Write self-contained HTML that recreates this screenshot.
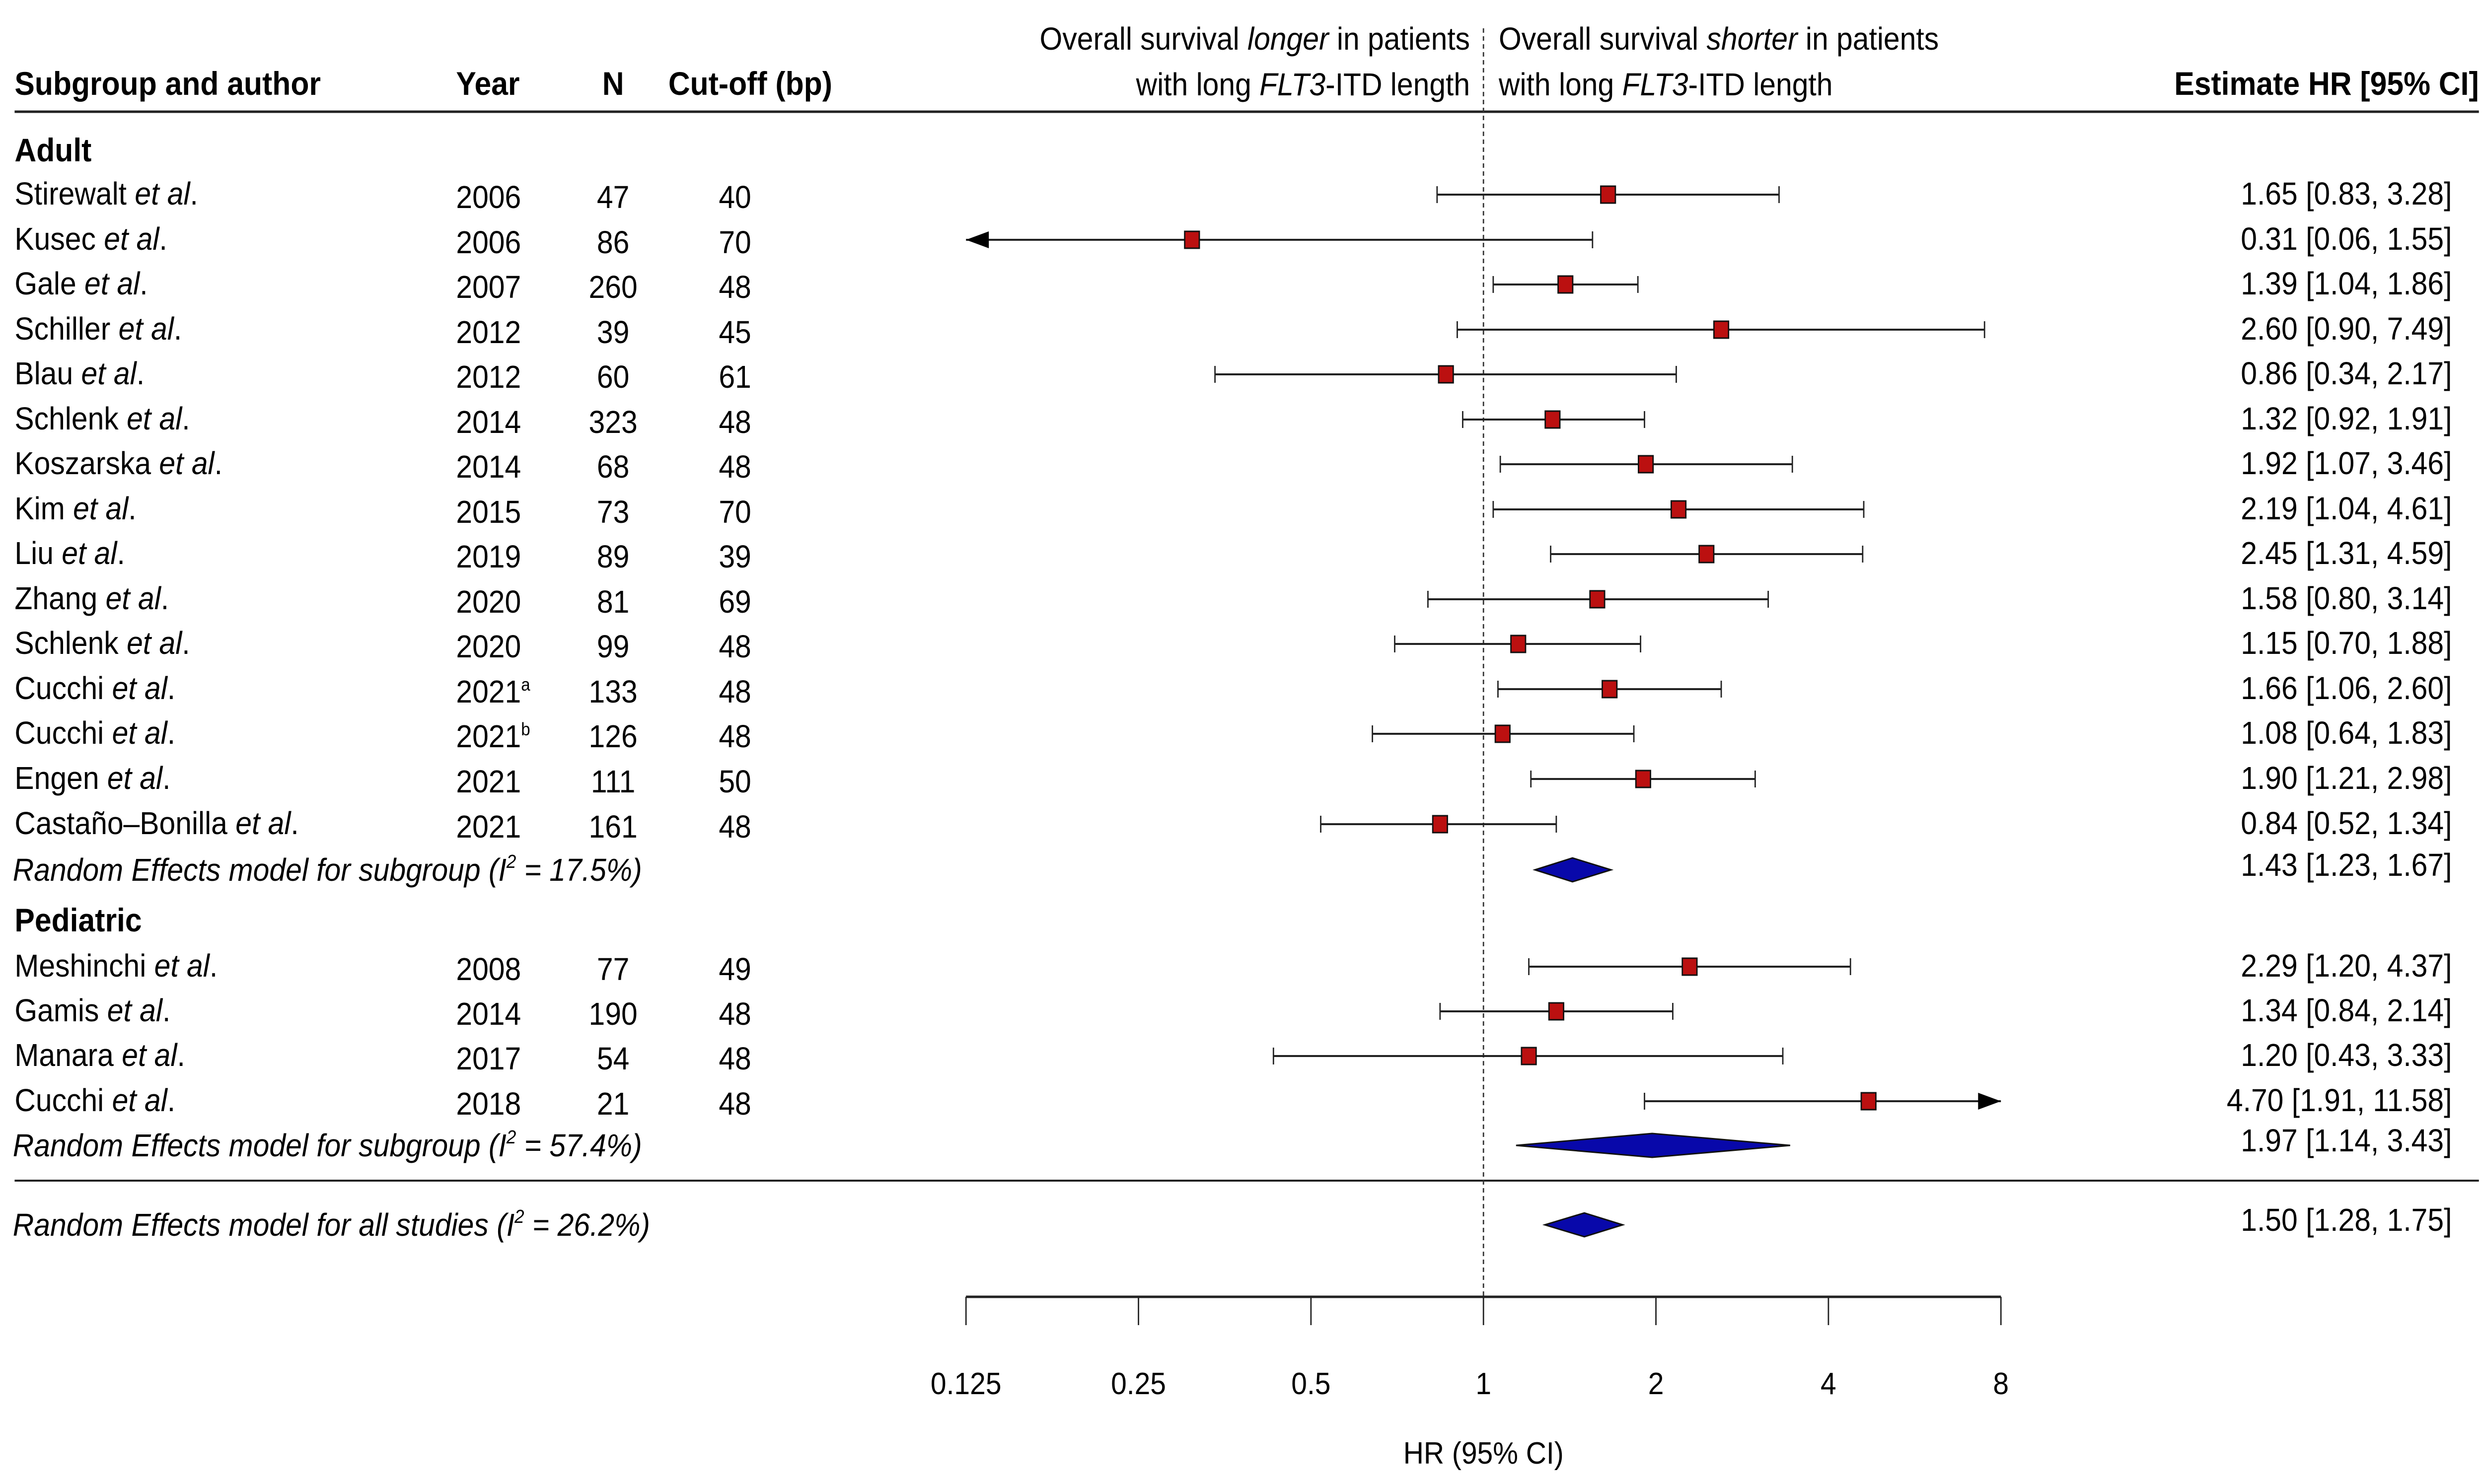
<!DOCTYPE html>
<html><head><meta charset="utf-8"><style>
html,body{margin:0;padding:0;background:#fff;width:100%;height:100%;overflow:hidden;}
svg{display:block;font-family:"Liberation Sans",sans-serif;width:100vw;height:100vh;}
</style></head><body>
<svg id="plot" viewBox="0 0 5439 2989" preserveAspectRatio="none" xmlns="http://www.w3.org/2000/svg">
<g font-size="66">
  <text x="32" y="191" font-weight="bold">Subgroup and author</text>
  <text x="999" y="191" font-weight="bold">Year</text>
  <text x="1343" y="191" font-weight="bold" text-anchor="middle">N</text>
  <text x="1464" y="191" font-weight="bold">Cut-off (bp)</text>
  <text x="5430" y="191" font-weight="bold" text-anchor="end">Estimate HR [95% CI]</text>
  <text x="3220" y="100" text-anchor="end" font-size="64">Overall survival <tspan font-style="italic">longer</tspan> in patients</text>
  <text x="3220" y="192" text-anchor="end" font-size="64">with long <tspan font-style="italic">FLT3</tspan>-ITD length</text>
  <text x="3283" y="100" font-size="64">Overall survival <tspan font-style="italic">shorter</tspan> in patients</text>
  <text x="3283" y="192" font-size="64">with long <tspan font-style="italic">FLT3</tspan>-ITD length</text>
</g>
<line x1="32" y1="225" x2="5430" y2="225" stroke="#222" stroke-width="5"/>
<line x1="32" y1="2378" x2="5430" y2="2378" stroke="#222" stroke-width="4"/>
<g id="rows"></g>
<g id="axis"></g>
</svg>
<script>
const names = ["Stirewalt","Kusec","Gale","Schiller","Blau","Schlenk","Koszarska","Kim","Liu","Zhang","Schlenk","Cucchi","Cucchi","Engen","Castaño–Bonilla","Meshinchi","Gamis","Manara","Cucchi"];
const years = ["2006","2006","2007","2012","2012","2014","2014","2015","2019","2020","2020","2021","2021","2021","2021","2008","2014","2017","2018"];
const yearSup = ["","","","","","","","","","","","a","b","","","","","",""];
const ns = [47,86,260,39,60,323,68,73,89,81,99,133,126,111,161,77,190,54,21];
const cutoffs = [40,70,48,45,61,48,48,70,39,69,48,48,48,50,48,49,48,48,48];
const hr = [1.65,0.31,1.39,2.60,0.86,1.32,1.92,2.19,2.45,1.58,1.15,1.66,1.08,1.90,0.84,2.29,1.34,1.20,4.70];
const lo = [0.83,0.06,1.04,0.90,0.34,0.92,1.07,1.04,1.31,0.80,0.70,1.06,0.64,1.21,0.52,1.20,0.84,0.43,1.91];
const hi = [3.28,1.55,1.86,7.49,2.17,1.91,3.46,4.61,4.59,3.14,1.88,2.60,1.83,2.98,1.34,4.37,2.14,3.33,11.58];
const rowY = [392,483,573,664,754,845,935,1026,1116,1207,1297,1388,1478,1569,1660,1947,2037,2127,2218];
const reLabels = ["Random Effects model for subgroup (I","Random Effects model for subgroup (I","Random Effects model for all studies (I"];
const reI2 = ["17.5%","57.4%","26.2%"];
const reHr = [1.43,1.97,1.50];
const reLo = [1.23,1.14,1.28];
const reHi = [1.67,3.43,1.75];
const reY = [1752,2307,2467];
const ticks = [0.125,0.25,0.5,1,2,4,8];
const tickLabels = ["0.125","0.25","0.5","1","2","4","8"];

const NS="http://www.w3.org/2000/svg";
const X0=2116, X1=4383, AXMIN=0.125, AXMAX=8;
function xs(v){return X0+(Math.log2(v)-Math.log2(AXMIN))/(Math.log2(AXMAX)-Math.log2(AXMIN))*(X1-X0);}
function mk(tag,attrs,parent){const e=document.createElementNS(NS,tag);for(const k in attrs)e.setAttribute(k,attrs[k]);parent.appendChild(e);return e;}
function f2(v){return v.toFixed(2);}
const rows=document.getElementById('rows');
const axis=document.getElementById('axis');

let t=mk('text',{x:32,y:325,'font-size':66,'font-weight':'bold'},rows);t.textContent='Adult';


t=mk('text',{x:32,y:1876,'font-size':66,'font-weight':'bold'},rows);t.textContent='Pediatric';



let ref=mk('line',{x1:xs(1),y1:57,x2:xs(1),y2:2612,stroke:'#333','stroke-width':3,'stroke-dasharray':'9,7'},rows);



for(let i=0;i<names.length;i++){
  const y=rowY[i];
  const g=mk('g',{},rows);
  
  
  const lab=mk('text',{x:32,y:y+20,'font-size':64},g);
  lab.textContent=names[i]+' ';
  const it=mk('tspan',{'font-style':'italic'},lab);it.textContent='et al';
  const dot=mk('tspan',{},lab);dot.textContent='.';
  const yt=mk('text',{x:999,y:y+27,'font-size':64},g);yt.textContent=years[i];
  if(yearSup[i]){const s=mk('tspan',{'font-size':36,dy:-24},yt);s.textContent=yearSup[i];}
  const nt=mk('text',{x:1343,y:y+27,'font-size':64,'text-anchor':'middle'},g);nt.textContent=ns[i];
  const ct=mk('text',{x:1610,y:y+27,'font-size':64,'text-anchor':'middle'},g);ct.textContent=cutoffs[i];
  const et=mk('text',{x:5371,y:y+20,'font-size':64,'text-anchor':'end'},g);
  et.textContent=f2(hr[i])+' ['+f2(lo[i])+', '+(hi[i]<10?' ':'')+f2(hi[i])+']';
  const l=Math.max(lo[i],AXMIN), h=Math.min(hi[i],AXMAX);
  const xl=xs(l), xh=xs(h);
  const ci=mk('line',{x1:xl,y1:y,x2:xh,y2:y,stroke:'#222','stroke-width':4},g);
  
  
  if(lo[i]<AXMIN){mk('polygon',{points:`${xl},${y} ${xl+50},${y-17} ${xl+50},${y+17}`,fill:'#000'},g);}
  else mk('line',{x1:xl,y1:y-17,x2:xl,y2:y+17,stroke:'#222','stroke-width':3},g);
  if(hi[i]>AXMAX){mk('polygon',{points:`${xh},${y} ${xh-50},${y-17} ${xh-50},${y+17}`,fill:'#000'},g);}
  else mk('line',{x1:xh,y1:y-17,x2:xh,y2:y+17,stroke:'#222','stroke-width':3},g);
  const sq=mk('rect',{x:xs(hr[i])-16,y:y-17,width:32,height:34,fill:'#bb1010',stroke:'#111','stroke-width':3},g);
  
  
}

for(let j=0;j<reHr.length;j++){
  const y=reY[j];
  const g=mk('g',{},rows);
  
  
  const lab=mk('text',{x:28,y:y+22,'font-size':64,'font-style':'italic'},g);
  lab.textContent=reLabels[j];
  const s=mk('tspan',{'font-size':38,dy:-26},lab);s.textContent='2';
  const r=mk('tspan',{dy:26},lab);r.textContent=' = '+reI2[j]+')';
  const et=mk('text',{x:5371,y:y+12,'font-size':64,'text-anchor':'end'},g);
  et.textContent=f2(reHr[j])+' ['+f2(reLo[j])+', '+f2(reHi[j])+']';
  const d=mk('polygon',{points:`${xs(reLo[j])},${y} ${xs(reHr[j])},${y-24} ${xs(reHi[j])},${y} ${xs(reHr[j])},${y+24}`,fill:'#0808aa',stroke:'#111','stroke-width':3},g);
  
  
}

let al=mk('line',{x1:X0,y1:2612,x2:X1,y2:2612,stroke:'#222','stroke-width':5},axis);


for(let k=0;k<ticks.length;k++){
  const x=xs(ticks[k]);
  const tk=mk('line',{x1:x,y1:2612,x2:x,y2:2669,stroke:'#222','stroke-width':3},axis);
  
  
  const tl=mk('text',{x:x,y:2808,'font-size':62,'text-anchor':'middle'},axis);
  tl.textContent=tickLabels[k];
  
  
}
const at=mk('text',{x:xs(1),y:2948,'font-size':62,'text-anchor':'middle'},axis);
at.textContent='HR (95% CI)';


</script>
</body></html>
